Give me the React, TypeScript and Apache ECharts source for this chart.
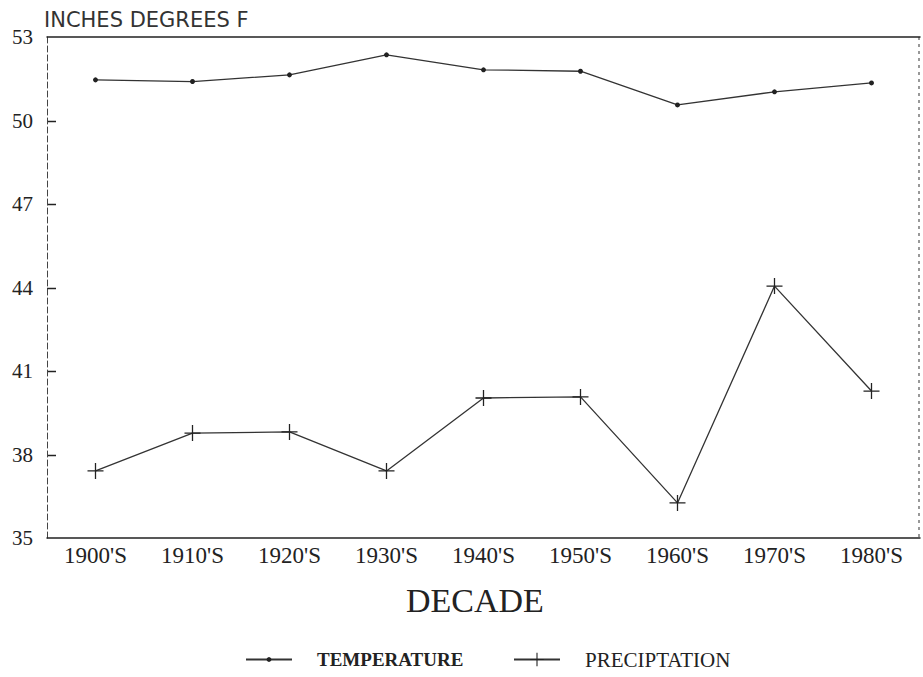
import React, { useEffect, useRef } from "react";
import * as echarts from "echarts";

const decades = ["1900'S", "1910'S", "1920'S", "1930'S", "1940'S", "1950'S", "1960'S", "1970'S", "1980'S"];
const temperature = [51.46, 51.4, 51.64, 52.36, 51.82, 51.77, 50.56, 51.03, 51.35];
const precipitation = [37.41, 38.77, 38.81, 37.41, 40.03, 40.07, 36.26, 44.05, 40.28];
const yTickValues = [35, 38, 41, 44, 47, 50, 53];
const yTicks = { min: 35, max: 53, interval: 3 };

const PLUS = "path://M4.6,0 H5.4 V4.6 H10 V5.4 H5.4 V10 H4.6 V5.4 H0 V4.6 H4.6 Z";
const INK = "#222";
const SERIF = "'Liberation Serif', 'DejaVu Serif', serif";
const W = 923;
const H = 677;
const GRID = { left: 47, right: 3, top: 37, bottom: 139 };

export default function App() {
  const ref = useRef<HTMLDivElement>(null);
  useEffect(() => {
    if (!ref.current) return;
    const chart = echarts.init(ref.current, null, { renderer: "svg" });
    const baseGraphic: any[] = [
      {
        id: "ytitle",
        type: "text",
        left: 44,
        top: 9,
        style: { text: "INCHES DEGREES F", font: "21px 'DejaVu Sans', sans-serif", fill: "#333" },
      },
      {
        id: "xname",
        type: "text",
        left: 406,
        top: 583,
        style: { text: "DECADE", font: "34px " + SERIF, fill: INK },
      },
    ];
    chart.setOption({
      animation: false,
      backgroundColor: "#fff",
      grid: { ...GRID, containLabel: false },
      graphic: baseGraphic,
      legend: [
        {
          left: 240,
          top: 645,
          itemWidth: 46,
          itemHeight: 6,
          data: [{ name: "TEMPERATURE" }],
          textStyle: { fontFamily: SERIF, fontSize: 19, fontWeight: "bold", color: INK, padding: [0, 0, 0, 20] },
        },
        {
          left: 508,
          top: 644,
          itemWidth: 46,
          itemHeight: 17,
          data: [{ name: "PRECIPTATION" }],
          textStyle: { fontFamily: SERIF, fontSize: 21, color: INK, padding: [0, 0, 0, 20] },
        },
      ],
      xAxis: [
        {
          type: "category",
          data: decades,
          boundaryGap: true,
          axisLine: { lineStyle: { color: INK, width: 1.5 } },
          axisTick: { inside: true, alignWithLabel: true, length: 7, lineStyle: { color: INK, width: 1.2 } },
          axisLabel: { fontFamily: SERIF, fontSize: 23, color: INK, margin: 6 },
          splitLine: { show: false },
        },
        {
          type: "category",
          data: decades,
          position: "top",
          axisLine: { lineStyle: { color: INK, width: 1.5 } },
          axisTick: { show: false },
          axisLabel: { show: false },
        },
      ],
      yAxis: [
        {
          type: "value",
          position: "left",
          min: yTicks.min,
          max: yTicks.max,
          interval: yTicks.interval,
          axisLine: { show: true, onZero: false, lineStyle: { color: "#444", width: 1, type: [6, 3] } },
          axisTick: { show: false },
          axisLabel: { fontFamily: SERIF, fontSize: 21, color: INK, margin: 14 },
          splitLine: { show: false },
        },
      ],
      series: [
        {
          name: "TEMPERATURE",
          type: "line",
          data: temperature,
          symbol: "circle",
          symbolSize: 5,
          lineStyle: { color: "#333", width: 1.3 },
          itemStyle: { color: INK },
        },
        {
          name: "PRECIPTATION",
          type: "line",
          data: precipitation,
          symbol: PLUS,
          symbolSize: 16,
          lineStyle: { color: "#333", width: 1.3 },
          itemStyle: { color: INK },
        },
      ],
    });
    // inward ticks on the left axis and the dashed right frame, positioned through the axis scale
    const xl = GRID.left;
    const xr = W - GRID.right;
    const tickEls = yTickValues
      .filter((v) => v > yTicks.min && v < yTicks.max)
      .map((v, i) => {
        const y = Math.round(chart.convertToPixel({ yAxisIndex: 0 }, v) as number) + 0.5;
        return {
          id: "ytick" + i,
          type: "line",
          shape: { x1: xl, y1: y, x2: xl + 9, y2: y },
          style: { stroke: INK, lineWidth: 1.5 },
          silent: true,
        };
      });
    const yTop = chart.convertToPixel({ yAxisIndex: 0 }, yTicks.max) as number;
    const yBot = chart.convertToPixel({ yAxisIndex: 0 }, yTicks.min) as number;
    const rightLine = {
      id: "rightframe",
      type: "line",
      shape: { x1: xr - 1, y1: yTop, x2: xr - 1, y2: yBot },
      style: { stroke: "#555", lineWidth: 1.2, lineDash: [3, 4] },
      silent: true,
    };
    chart.setOption({ graphic: [...baseGraphic, ...tickEls, rightLine] });
    return () => chart.dispose();
  }, []);
  return (
    <div
      ref={ref}
      style={{ position: "fixed", left: 0, top: 0, width: W, height: H }}
    />
  );
}
